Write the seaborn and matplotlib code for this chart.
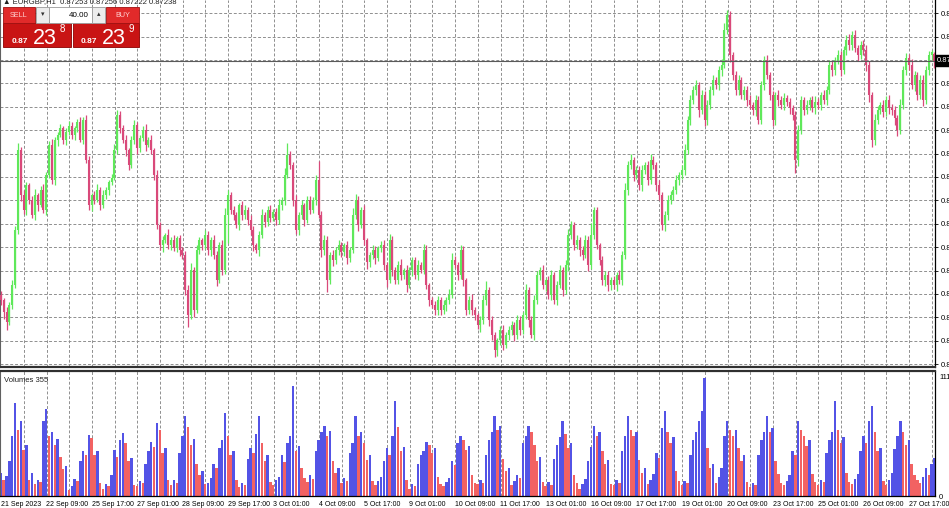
import numpy as np
import pandas as pd
import seaborn as sns
import matplotlib.pyplot as plt
from matplotlib.patches import Rectangle

# EURGBP H2 closes (open of each bar = previous close)
first_open = 0.86738
closes = [
    0.86727, 0.86701, 0.86680, 0.86716, 0.86759,
    0.86876, 0.87047, 0.86951, 0.86919, 0.86973,
    0.86941, 0.86909, 0.86951, 0.86930, 0.86962,
    0.86919, 0.86994, 0.87058, 0.86983, 0.87069,
    0.87080, 0.87094, 0.87069, 0.87086, 0.87099,
    0.87080, 0.87094, 0.87107, 0.87069, 0.87112,
    0.87026, 0.86930, 0.86951, 0.86941, 0.86962,
    0.86930, 0.86951, 0.86962, 0.86979, 0.86988,
    0.87047, 0.87122, 0.87094, 0.87069, 0.87047,
    0.87015, 0.87069, 0.87101, 0.87052, 0.87073,
    0.87090, 0.87058, 0.87069, 0.87047, 0.86994,
    0.86887, 0.86844, 0.86855, 0.86866, 0.86844,
    0.86855, 0.86838, 0.86859, 0.86834, 0.86823,
    0.86748, 0.86695, 0.86791, 0.86706, 0.86834,
    0.86855, 0.86844, 0.86866, 0.86834, 0.86855,
    0.86823, 0.86770, 0.86844, 0.86791, 0.86909,
    0.86951, 0.86919, 0.86909, 0.86887, 0.86930,
    0.86909, 0.86919, 0.86898, 0.86876, 0.86844,
    0.86834, 0.86866, 0.86909, 0.86894, 0.86919,
    0.86902, 0.86915, 0.86898, 0.86930, 0.86941,
    0.86994, 0.87037, 0.87015, 0.86941, 0.86876,
    0.86909, 0.86930, 0.86898, 0.86941, 0.86919,
    0.86941, 0.86983, 0.86909, 0.86834, 0.86855,
    0.86770, 0.86823, 0.86812, 0.86834, 0.86844,
    0.86829, 0.86844, 0.86817, 0.86834, 0.86909,
    0.86941, 0.86887, 0.86919, 0.86855, 0.86808,
    0.86823, 0.86834, 0.86817, 0.86838, 0.86844,
    0.86802, 0.86770, 0.86855, 0.86791, 0.86770,
    0.86802, 0.86780, 0.86791, 0.86759, 0.86791,
    0.86812, 0.86780, 0.86802, 0.86791, 0.86834,
    0.86759, 0.86727, 0.86716, 0.86706, 0.86727,
    0.86706, 0.86716, 0.86727, 0.86738, 0.86812,
    0.86802, 0.86780, 0.86834, 0.86770, 0.86706,
    0.86727, 0.86706, 0.86695, 0.86673, 0.86684,
    0.86727, 0.86748, 0.86684, 0.86652, 0.86620,
    0.86641, 0.86663, 0.86631, 0.86652, 0.86663,
    0.86673, 0.86652, 0.86684, 0.86663, 0.86695,
    0.86748, 0.86684, 0.86652, 0.86727, 0.86780,
    0.86791, 0.86759, 0.86770, 0.86738, 0.86780,
    0.86727, 0.86759, 0.86791, 0.86748, 0.86802,
    0.86866, 0.86887, 0.86844, 0.86855, 0.86834,
    0.86823, 0.86855, 0.86802, 0.86866, 0.86919,
    0.86844, 0.86812, 0.86770, 0.86780, 0.86759,
    0.86770, 0.86759, 0.86780, 0.86770, 0.86823,
    0.86962, 0.87015, 0.87026, 0.86994, 0.87005,
    0.86973, 0.87005, 0.87015, 0.86983, 0.87026,
    0.87015, 0.86973, 0.86951, 0.86887, 0.86909,
    0.86941, 0.86951, 0.86962, 0.86983, 0.86994,
    0.87005, 0.87047, 0.87112, 0.87154, 0.87176,
    0.87186, 0.87133, 0.87165, 0.87112, 0.87144,
    0.87176, 0.87197, 0.87186, 0.87218, 0.87229,
    0.87304, 0.87336, 0.87250, 0.87208, 0.87176,
    0.87197, 0.87165, 0.87176, 0.87154, 0.87144,
    0.87133, 0.87154, 0.87112, 0.87186, 0.87240,
    0.87208, 0.87165, 0.87112, 0.87165, 0.87154,
    0.87144, 0.87159, 0.87150, 0.87137, 0.87122,
    0.87026, 0.87090, 0.87154, 0.87133, 0.87144,
    0.87154, 0.87137, 0.87150, 0.87144, 0.87165,
    0.87154, 0.87176, 0.87229, 0.87218, 0.87240,
    0.87250, 0.87218, 0.87261, 0.87283, 0.87272,
    0.87293, 0.87265, 0.87250, 0.87272, 0.87261,
    0.87229, 0.87165, 0.87069, 0.87112, 0.87133,
    0.87144, 0.87129, 0.87154, 0.87137, 0.87133,
    0.87116, 0.87090, 0.87144, 0.87218, 0.87244,
    0.87229, 0.87186, 0.87208, 0.87165, 0.87197,
    0.87154, 0.87218, 0.87250, 0.87253, 0.87238,
]

# wick lengths above / below the body, in points (0.00001)
wick_hi = [
    8, 5, 12, 6, 10, 9, 15, 7, 11, 6, 5, 9, 13, 4, 8, 12, 6, 9, 14, 7,
    6, 10, 5, 8, 11, 9, 4, 7, 12, 6, 10, 8, 5, 9, 13, 7, 11, 6, 4, 9,
    14, 12, 8, 6, 10, 5, 9, 11, 7, 6, 8, 13, 6, 10, 5, 11, 7, 9, 5, 12,
    6, 10, 4, 8, 7, 9, 12, 15, 6, 10, 7, 5, 11, 9, 6, 10, 8, 6, 12, 14,
    11, 6, 9, 7, 5, 8, 12, 6, 10, 9, 5, 9, 13, 7, 8, 10, 6, 8, 12, 7,
    15, 25, 9, 6, 11, 7, 10, 5, 9, 8, 6, 12, 40, 8, 10, 9, 7, 11, 6, 12,
    8, 5, 10, 7, 14, 12, 9, 6, 11, 5, 7, 10, 8, 5, 9, 11, 6, 13, 8, 7,
    9, 12, 5, 10, 6, 6, 8, 11, 7, 13, 10, 5, 7, 9, 8, 7, 11, 6, 12, 15,
    9, 6, 10, 8, 5, 8, 12, 7, 5, 9, 11, 20, 6, 9, 7, 5, 8, 10, 6, 9,
    10, 7, 12, 8, 6, 13, 6, 9, 11, 8, 7, 10, 5, 9, 12, 6, 9, 11, 7, 10,
    12, 8, 6, 10, 7, 9, 11, 8, 25, 6, 7, 5, 10, 8, 9, 6, 9, 7, 11, 8,
    14, 10, 12, 7, 9, 8, 11, 6, 10, 12, 9, 7, 10, 6, 8, 11, 8, 9, 12, 7,
    10, 13, 9, 11, 8, 12, 7, 10, 9, 11, 8, 10, 6, 9, 12, 14, 10, 8, 7, 9,
    10, 6, 9, 8, 11, 7, 12, 8, 10, 9, 11, 7, 9, 6, 10, 8, 10, 7, 9, 6,
    9, 11, 8, 6, 10, 7, 9, 12, 8, 6, 10, 8, 11, 9, 7, 12, 9, 8, 10, 13,
    9, 11, 7, 8, 10, 10, 8, 6, 12, 9, 7, 10, 9, 11, 8, 9, 7, 12, 10, 11,
    8, 12, 9, 7, 10, 11, 8, 10, 6, 3,
]
wick_lo = [
    10, 14, 18, 7, 9, 6, 8, 12, 9, 11, 8, 6, 10, 12, 5, 7, 11, 6, 9, 10,
    12, 5, 8, 10, 6, 9, 11, 7, 5, 8, 6, 10, 12, 8, 5, 11, 7, 9, 10, 6,
    5, 8, 11, 7, 12, 10, 6, 9, 13, 8, 7, 12, 5, 9, 10, 8, 10, 14, 6, 9,
    11, 7, 9, 12, 8, 10, 25, 8, 15, 6, 9, 11, 7, 10, 12, 8, 14, 6, 11, 9,
    60, 9, 12, 7, 10, 11, 8, 10, 9, 13, 7, 12, 6, 10, 8, 9, 7, 11, 8, 10,
    12, 6, 9, 14, 7, 10, 8, 12, 6, 9, 7, 11, 6, 15, 10, 25, 9, 12, 8, 11,
    10, 7, 13, 9, 6, 8, 12, 7, 10, 14, 11, 9, 12, 7, 8, 10, 15, 6, 12, 9,
    8, 11, 9, 14, 7, 12, 8, 10, 6, 9, 9, 13, 7, 11, 10, 11, 8, 12, 9, 6,
    7, 10, 8, 13, 11, 9, 12, 10, 8, 14, 8, 11, 12, 10, 15, 12, 9, 11, 7, 10,
    10, 12, 8, 11, 9, 9, 14, 7, 10, 8, 11, 8, 12, 9, 10, 8, 10, 7, 12, 9,
    13, 9, 11, 8, 12, 10, 7, 12, 9, 8, 9, 11, 10, 14, 12, 11, 8, 13, 9, 10,
    8, 10, 7, 12, 9, 10, 12, 9, 11, 8, 9, 14, 11, 10, 12, 12, 8, 10, 9, 11,
    9, 10, 8, 11, 9, 12, 15, 9, 13, 10, 8, 11, 9, 10, 12, 7, 9, 14, 10, 12,
    11, 8, 10, 12, 9, 10, 12, 9, 8, 11, 9, 11, 14, 10, 12, 8, 10, 9, 12, 11,
    28, 12, 9, 11, 8, 10, 9, 12, 8, 11, 9, 11, 8, 12, 10, 8, 12, 9, 10, 11,
    10, 9, 12, 8, 11, 12, 14, 15, 10, 9, 9, 11, 8, 12, 10, 14, 12, 9, 8, 10,
    11, 9, 12, 10, 8, 12, 9, 10, 11, 16,
]

# tick volumes per bar, one row per trading day
volumes = [
    220, 150, 190, 330, 560, 870, 620, 700, 430, 480, 150, 220,
    110, 150, 130, 700, 813, 560, 600, 480, 530, 370, 250, 280,
    60, 90, 160, 140, 330, 420, 380, 576, 540, 380, 420, 120,
    70, 110, 90, 200, 430, 370, 520, 586, 500, 330, 360, 100,
    90, 140, 120, 300, 420, 510, 460, 680, 620, 400, 450, 150,
    100, 150, 120, 400, 560, 747, 650, 480, 530, 300, 200, 230,
    110, 120, 170, 300, 260, 450, 520, 775, 560, 380, 420, 150,
    80, 120, 100, 350, 450, 400, 580, 747, 500, 330, 380, 130,
    100, 150, 180, 380, 320, 500, 560, 1030, 420, 470, 260, 170,
    130, 200, 160, 420, 520, 600, 652, 560, 610, 330, 220, 260,
    120, 170, 140, 400, 500, 747, 560, 600, 500, 340, 380, 140,
    100, 140, 180, 330, 450, 380, 560, 888, 650, 420, 460, 150,
    70, 110, 90, 300, 380, 420, 510, 480, 400, 450, 180, 110,
    90, 130, 170, 330, 290, 500, 558, 520, 430, 470, 200, 120,
    110, 150, 120, 380, 520, 600, 747, 620, 660, 350, 230, 260,
    100, 140, 200, 170, 500, 560, 652, 600, 480, 330, 370, 130,
    90, 130, 100, 350, 480, 550, 699, 580, 450, 500, 200, 120,
    70, 110, 160, 330, 460, 652, 560, 600, 420, 300, 340, 110,
    100, 150, 120, 420, 560, 747, 620, 560, 600, 340, 220, 260,
    110, 150, 210, 400, 360, 640, 794, 600, 500, 550, 230, 140,
    100, 140, 120, 380, 520, 600, 700, 800, 1105, 450, 260, 300,
    120, 180, 260, 560, 699, 620, 560, 620, 450, 330, 380, 130,
    80, 120, 100, 380, 520, 600, 747, 600, 640, 330, 210, 120,
    100, 140, 200, 420, 380, 699, 620, 560, 470, 520, 210, 130,
    100, 150, 130, 400, 520, 600, 888, 620, 500, 550, 220, 130,
    110, 160, 210, 420, 560, 500, 700, 841, 600, 420, 450, 140,
    100, 150, 220, 440, 560, 699, 600, 480, 520, 300, 200, 150,
    120, 180, 260, 200, 300, 355,
]

time_labels = ["21 Sep 2023", "22 Sep 09:00", "25 Sep 17:00", "27 Sep 01:00",
               "28 Sep 09:00", "29 Sep 17:00", "3 Oct 01:00", "4 Oct 09:00",
               "5 Oct 17:00", "9 Oct 01:00", "10 Oct 09:00", "11 Oct 17:00",
               "13 Oct 01:00", "16 Oct 09:00", "17 Oct 17:00", "19 Oct 01:00",
               "20 Oct 09:00", "23 Oct 17:00", "25 Oct 01:00", "26 Oct 09:00",
               "27 Oct 17:00"]
header = "EURGBP,H1  0.87253 0.87256 0.87222 0.87238"
vol_max_label = "1115"

sns.set_style("white")
plt.rcParams['font.family'] = ['Liberation Sans', 'DejaVu Sans']

n = len(closes)
bars = np.arange(n)
opens = np.array([first_open] + closes[:-1])
cl = np.array(closes)
up = cl >= opens
body_lo = np.minimum(opens, cl)
body_hi = np.maximum(opens, cl)
body_hi = np.where(body_hi - body_lo < 0.00003, body_hi + 0.00003, body_hi)
highs = body_hi + np.array(wick_hi) * 1e-5
lows = body_lo - np.array(wick_lo) * 1e-5
last_price = closes[-1]

fig = plt.figure(figsize=(9.49, 5.08), dpi=100)
ax_p = fig.add_axes([0, 0.2776, 0.9852, 0.7224])
ax_v = fig.add_axes([0, 0.0236, 0.9852, 0.2461])

grid_kw = dict(color='#8f8f8f', lw=0.7, ls=(0, (3, 2)), zorder=0)
for ax in (ax_p, ax_v):
    for gx in range(8, n, 8):
        ax.axvline(gx + 0.1, **grid_kw)

# price pane
price_ticks = np.arange(0.86590, 0.87345, 0.0005)
for py in price_ticks:
    ax_p.axhline(py, **grid_kw)
green, crimson = '#5fe85a', '#d9497a'
ax_p.vlines(bars[up], lows[up], highs[up], color=green, lw=0.9, zorder=3)
ax_p.vlines(bars[~up], lows[~up], highs[~up], color=crimson, lw=0.9, zorder=3)
ax_p.vlines(bars[up], body_lo[up], body_hi[up], color=green, lw=1.5, zorder=3)
ax_p.vlines(bars[~up], body_lo[~up], body_hi[~up], color=crimson, lw=1.5, zorder=3)
ax_p.axhline(last_price, color='#5a5a5a', lw=0.8, zorder=4)
ax_p.set_ylim(0.86584, 0.87368)
ax_p.set_xlim(-0.3, 329.2)
ax_p.yaxis.tick_right()
ax_p.set_yticks(price_ticks)
# the label under the current-price box is hidden in the terminal
ax_p.set_yticklabels(['' if abs(p - last_price) < 0.0002 else f"{p:.5f}" for p in price_ticks])
ax_p.tick_params(axis='y', direction='out', length=2.5, width=0.6, pad=1.5,
                 labelsize=5.5, colors='black')
ax_p.set_xticks([])
ax_p.text(1.0022, last_price, f"{last_price:.5f}", transform=ax_p.get_yaxis_transform(),
          ha='left', va='center', fontsize=5.5, color='white', clip_on=False, zorder=6,
          bbox=dict(boxstyle='square,pad=0.25', fc='black', ec='black'))
ax_p.spines['top'].set_visible(False)
ax_p.spines['left'].set_color('#606060')
ax_p.spines['left'].set_linewidth(0.8)
ax_p.spines['right'].set_color('black')
ax_p.spines['right'].set_linewidth(0.9)
ax_p.spines['bottom'].set_color('#303030')
ax_p.spines['bottom'].set_linewidth(1.6)

# volume pane
vol_df = pd.DataFrame({
    'bar': bars,
    'volume': volumes,
    'dir': ['up'] + ['up' if volumes[i] >= volumes[i - 1] else 'down' for i in range(1, n)],
})
sns.barplot(data=vol_df, x='bar', y='volume', hue='dir', native_scale=True, dodge=False,
            palette={'up': '#5353e6', 'down': '#f26262'}, width=0.85, saturation=1,
            linewidth=0, errorbar=None, legend=False, ax=ax_v, zorder=2)
ax_v.set_xlim(-0.3, 329.2)
ax_v.set_ylim(0, 1171)
ax_v.set_xlabel('')
ax_v.set_ylabel('')
ax_v.yaxis.tick_right()
ax_v.set_yticks([0, 1115])
ax_v.set_yticklabels(['0', vol_max_label])
ax_v.tick_params(axis='y', length=0, pad=3, labelsize=5.5, colors='black')
ax_v.set_xticks([16 * j for j in range(len(time_labels))])
ax_v.set_xticklabels(time_labels)
for lbl in ax_v.get_xticklabels():
    lbl.set_ha('left')
ax_v.tick_params(axis='x', direction='out', length=2.5, width=0.6, pad=1,
                 labelsize=5, colors='black')
ax_v.text(0.004, 0.955, f"Volumes {volumes[-1]}", transform=ax_v.transAxes,
          fontsize=5.5, ha='left', va='top', color='#202020')
ax_v.spines['top'].set_color('#303030')
ax_v.spines['top'].set_linewidth(1.6)
ax_v.spines['left'].set_color('#606060')
ax_v.spines['left'].set_linewidth(0.8)
for side in ('right', 'bottom'):
    ax_v.spines[side].set_color('black')
    ax_v.spines[side].set_linewidth(0.9)

# one-click trading panel and header, in pixel units
ov = fig.add_axes([0, 0, 1, 1], zorder=10)
ov.set_xlim(0, 949)
ov.set_ylim(508, 0)
ov.axis('off')
ov.patch.set_alpha(0)
ov.text(3, 1.5, "\u25b2 " + header, fontsize=5.5, va='center', ha='left', color='#202020')


def box(x, y, w, h, fc, ec):
    ov.add_patch(Rectangle((x, y), w, h, fc=fc, ec=ec, lw=0.6))


box(3, 23, 68, 24, '#c91414', '#8c0000')
box(73, 23, 66, 24, '#c91414', '#8c0000')
box(3, 7, 32, 16, '#e12a2a', '#a01010')
box(106, 7, 33, 16, '#e12a2a', '#a01010')
box(36, 7, 13, 16, '#ececec', '#9a9a9a')
box(92, 7, 13, 16, '#ececec', '#9a9a9a')
box(49, 7, 43, 16, 'white', '#9a9a9a')
ov.text(19, 15.5, "SELL", fontsize=5.2, color='#ffd0d0', ha='center', va='center')
ov.text(122.5, 15.5, "BUY", fontsize=5.2, color='#ffd0d0', ha='center', va='center')
ov.text(42.5, 15, "\u25be", fontsize=5, color='#303030', ha='center', va='center')
ov.text(98.5, 15, "\u25b4", fontsize=5, color='#303030', ha='center', va='center')
ov.text(89, 15.5, "40.00", fontsize=5.8, color='black', ha='right', va='center')
for x0, sup in ((12, "8"), (81, "9")):
    ov.text(x0, 43, "0.87", fontsize=6, fontweight='bold', color='white', ha='left',
            va='baseline')
    ov.text(x0 + 21, 43.5, "23", fontsize=15.5, color='white', ha='left', va='baseline')
    ov.text(x0 + 48, 23.5, sup, fontsize=7, color='white', ha='left', va='top')

fig.savefig('out.png', dpi=100)
